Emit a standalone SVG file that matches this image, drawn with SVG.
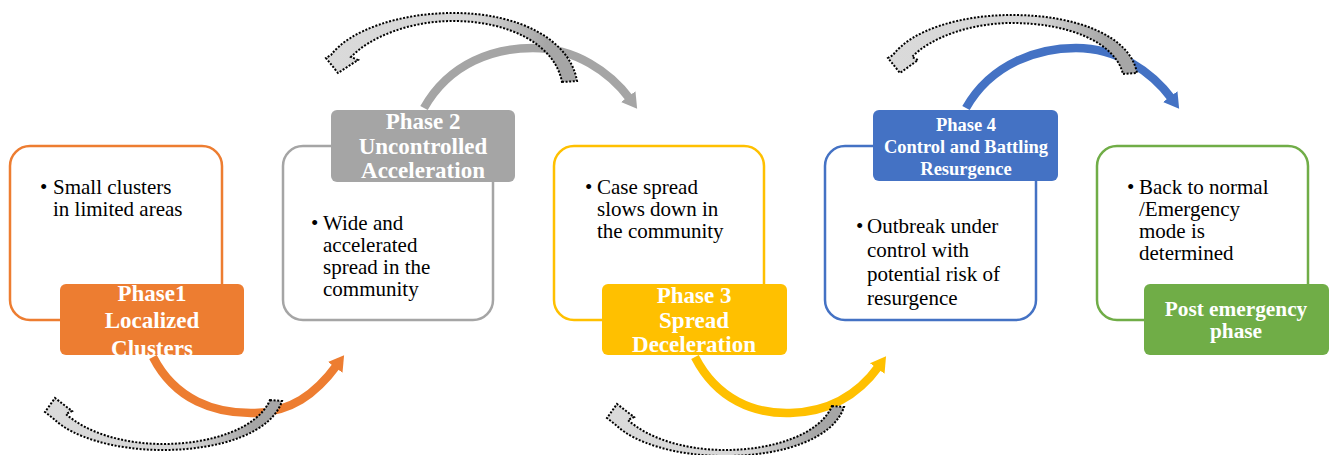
<svg xmlns="http://www.w3.org/2000/svg" width="1336" height="455" viewBox="0 0 1336 455">
<style>
.box{fill:#fff;stroke-width:2.5}
.lbl{font-family:"Liberation Serif",serif;font-weight:bold;fill:#fff;text-anchor:middle;font-size:23px}
.body{font-family:"Liberation Serif","DejaVu Serif",serif;font-weight:normal;font-size:21px;fill:#000}
.arc{fill:none;stroke-width:8.5}
.dot{stroke:#000;stroke-width:2;stroke-dasharray:2 1.6}
</style>
<defs>
<marker id="mO" markerUnits="userSpaceOnUse" markerWidth="16" markerHeight="20" viewBox="0 0 16 20" refX="3" refY="10" orient="auto"><path d="M0,1 L15,10 L0,19 z" fill="#ED7D31"/></marker>
<marker id="mG" markerUnits="userSpaceOnUse" markerWidth="16" markerHeight="20" viewBox="0 0 16 20" refX="3" refY="10" orient="auto"><path d="M0,1 L15,10 L0,19 z" fill="#A5A5A5"/></marker>
<marker id="mY" markerUnits="userSpaceOnUse" markerWidth="16" markerHeight="20" viewBox="0 0 16 20" refX="3" refY="10" orient="auto"><path d="M0,1 L15,10 L0,19 z" fill="#FFC000"/></marker>
<marker id="mB" markerUnits="userSpaceOnUse" markerWidth="16" markerHeight="20" viewBox="0 0 16 20" refX="3" refY="10" orient="auto"><path d="M0,1 L15,10 L0,19 z" fill="#4472C4"/></marker>
<linearGradient id="gd" x1="0" y1="0" x2="1" y2="0">
<stop offset="0" stop-color="#DADADA"/><stop offset="0.6" stop-color="#D6D6D6"/><stop offset="0.88" stop-color="#A6A6A6"/><stop offset="1" stop-color="#A6A6A6"/>
</linearGradient>
</defs>

<g id="node1">
<rect class="box" x="10" y="146" width="212" height="174" rx="20" stroke="#ED7D31"/>
<text class="body" x="40" y="194">•</text>
<text class="body" x="53" y="194">Small clusters</text>
<text class="body" x="53" y="216">in limited areas</text>
<rect x="60" y="284" width="184" height="71" rx="6" fill="#ED7D31"/>
<text class="lbl" x="152" y="301">Phase1</text>
<text class="lbl" x="152" y="328">Localized</text>
<text class="lbl" x="152" y="356">Clusters</text>
</g>

<g id="node2">
<rect class="box" x="283" y="146" width="210" height="174" rx="20" stroke="#A5A5A5"/>
<text class="body" x="311" y="230">•</text>
<text class="body" x="323" y="230">Wide and</text>
<text class="body" x="323" y="252">accelerated</text>
<text class="body" x="323" y="274">spread in the</text>
<text class="body" x="323" y="296">community</text>
<rect x="331" y="110" width="184" height="72" rx="6" fill="#A5A5A5"/>
<text class="lbl" x="423" y="129">Phase 2</text>
<text class="lbl" x="423" y="154">Uncontrolled</text>
<text class="lbl" x="423" y="178">Acceleration</text>
</g>

<g id="node3">
<rect class="box" x="554" y="146" width="210" height="174" rx="20" stroke="#FFC000"/>
<text class="body" x="585" y="194">•</text>
<text class="body" x="597" y="194">Case spread</text>
<text class="body" x="597" y="216">slows down in</text>
<text class="body" x="597" y="238">the community</text>
<rect x="602" y="284" width="185" height="71" rx="6" fill="#FFC000"/>
<text class="lbl" x="694" y="303">Phase 3</text>
<text class="lbl" x="694" y="328">Spread</text>
<text class="lbl" x="694" y="352">Deceleration</text>
</g>

<g id="node4">
<rect class="box" x="825" y="146" width="211" height="174" rx="20" stroke="#4472C4"/>
<text class="body" x="856" y="233">•</text>
<text class="body" x="867" y="233">Outbreak under</text>
<text class="body" x="867" y="257">control with</text>
<text class="body" x="867" y="281">potential risk of</text>
<text class="body" x="867" y="305">resurgence</text>
<rect x="873" y="110" width="185" height="71" rx="6" fill="#4472C4"/>
<text class="lbl" x="966" y="131" style="font-size:18.5px">Phase 4</text>
<text class="lbl" x="966" y="153" style="font-size:18.5px">Control and Battling</text>
<text class="lbl" x="966" y="175" style="font-size:18.5px">Resurgence</text>
</g>

<g id="node5">
<rect class="box" x="1097" y="146" width="211" height="174" rx="20" stroke="#70AD47"/>
<text class="body" x="1127" y="194">•</text>
<text class="body" x="1139" y="194">Back to normal</text>
<text class="body" x="1139" y="216">/Emergency</text>
<text class="body" x="1139" y="238">mode is</text>
<text class="body" x="1139" y="260">determined</text>
<rect x="1144" y="284" width="185" height="71" rx="6" fill="#70AD47"/>
<text class="lbl" x="1236" y="316" style="font-size:21.3px">Post emergency</text>
<text class="lbl" x="1236" y="338" style="font-size:21.3px">phase</text>
</g>

<g id="connectors">
<path class="arc" stroke="#ED7D31" marker-end="url(#mO)" d="M153 357 C175 400 215 414 255 413 C290 412 315 395 337 365"/>
<path class="arc" stroke="#A5A5A5" marker-end="url(#mG)" d="M424 108 C450 62 495 48 533 48 C575 48 610 72 630 99"/>
<path class="arc" stroke="#FFC000" marker-end="url(#mY)" d="M695 357 C717 400 755 414 790 413 C830 412 858 395 879 366"/>
<path class="arc" stroke="#4472C4" marker-end="url(#mB)" d="M966 108 C992 62 1040 48 1076 48 C1118 48 1152 72 1172 99"/>

<path class="dot" fill="url(#gd)" d="M562 82 L577 81 C570 40 520 13 453 13 C400 13 350 30 331 55 L326 58 L338 73 L358 60 L351 57 C370 37 410 21 453 21 C510 21 555 45 562 82 Z"/>
<path class="dot" fill="url(#gd)" d="M1123 74 L1137 73 C1130 35 1075 15 1012 15 C960 15 912 30 893 55 L888 58 L900 73 L918 60 L912 57 C930 38 970 23 1012 23 C1068 23 1115 42 1123 74 Z"/>
<path class="dot" fill="url(#gd)" d="M270 400 L282 401 C272 432 222 450 163 450 C112 450 72 436 55 420 L45 412 L55 398 L72 411 L66 414 C86 432 122 444 163 444 C212 444 258 428 270 400 Z"/>
<path class="dot" fill="url(#gd)" transform="translate(562 6)" d="M270 400 L282 401 C272 432 222 450 163 450 C112 450 72 436 55 420 L45 412 L55 398 L72 411 L66 414 C86 432 122 444 163 444 C212 444 258 428 270 400 Z"/>
</g>
</svg>
